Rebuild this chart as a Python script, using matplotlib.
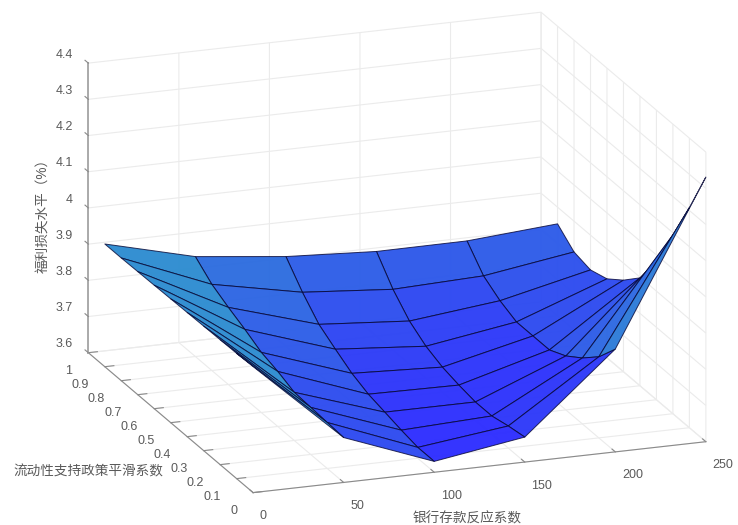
import numpy as np
import matplotlib
matplotlib.use("Agg")
import matplotlib.pyplot as plt
from matplotlib.colors import LinearSegmentedColormap, Normalize

plt.rcParams["font.family"] = ["Liberation Sans", "Noto Sans CJK SC"]

bank_response = [0, 50, 100, 150, 200, 250]
smoothing = [0, 0.1, 0.2, 0.3, 0.4, 0.5, 0.6, 0.7, 0.8, 0.9]
loss_0 = [3.948, 3.946, 3.945, 3.944, 3.943, 3.942, 3.941, 3.940, 3.939, 3.939]
loss_50 = [3.724, 3.727, 3.730, 3.733, 3.752, 3.766, 3.791, 3.813, 3.838, 3.876]
loss_100 = [3.630, 3.630, 3.639, 3.650, 3.661, 3.680, 3.708, 3.738, 3.788, 3.848]
loss_150 = [3.669, 3.661, 3.650, 3.650, 3.658, 3.669, 3.688, 3.719, 3.768, 3.834]
loss_200 = [3.884, 3.824, 3.782, 3.749, 3.727, 3.727, 3.727, 3.747, 3.777, 3.835]
loss_250 = [4.331, 4.208, 4.094, 3.983, 3.898, 3.853, 3.818, 3.804, 3.815, 3.854]

x_ticks = [0, 50, 100, 150, 200, 250]
y_ticks = [0, 0.1, 0.2, 0.3, 0.4, 0.5, 0.6, 0.7, 0.8, 0.9, 1]
z_ticks = [3.6, 3.7, 3.8, 3.9, 4, 4.1, 4.2, 4.3, 4.4]
x_tick_labels = ["0", "50", "100", "150", "200", "250"]
y_tick_labels = ["0", "0.1", "0.2", "0.3", "0.4", "0.5", "0.6", "0.7", "0.8", "0.9", "1"]
z_tick_labels = ["3.6", "3.7", "3.8", "3.9", "4", "4.1", "4.2", "4.3", "4.4"]

TEXT = "#5a5a5a"
GRID = (0.92, 0.92, 0.92, 1)
AXIS = "#8a8a8a"

X, Y = np.meshgrid(bank_response, smoothing)
Z = np.array([loss_0, loss_50, loss_100, loss_150, loss_200, loss_250]).T

cmap = LinearSegmentedColormap.from_list(
    "blues", [(44 / 255, 44 / 255, 1), (44 / 255, 140 / 255, 208 / 255)]
)
norm = Normalize(3.63, 3.94)
colors = cmap(norm(Z[:-1, :-1]))
colors[..., 3] = 0.96

fig = plt.figure(figsize=(7.38, 5.25), dpi=100)
ax = fig.add_axes([21 / 738, 3 / 525, 1, 1], projection="3d", proj_type="ortho")
ax.view_init(elev=18, azim=-110)
ax.set_box_aspect((1, 1, 0.632), zoom=1.38)
ax.set_xlim(0, 250, view_margin=0)
ax.set_ylim(0, 1, view_margin=0)
ax.set_zlim(3.6, 4.4, view_margin=0)

surf = ax.plot_surface(X, Y, Z, rstride=1, cstride=1, facecolors=colors, shade=False)
surf.set_edgecolor((0.02, 0.02, 0.2, 0.8))
surf.set_linewidth(0.7)
surf.set_clip_on(False)

ax.set_xticks(x_ticks, x_tick_labels)
ax.set_yticks(y_ticks, y_tick_labels)
ax.set_zticks(z_ticks, z_tick_labels)
ax.tick_params(labelsize=9, labelcolor=TEXT, color=AXIS)
ax.tick_params(axis="x", pad=0)
ax.tick_params(axis="y", pad=-1)
ax.tick_params(axis="z", pad=-3)
plt.setp(ax.get_xticklabels(), ha="left")
plt.setp(ax.get_yticklabels(), ha="right")
plt.setp(ax.get_zticklabels(), ha="right", va="bottom")

for axis in (ax.xaxis, ax.yaxis, ax.zaxis):
    axis.set_pane_color((1, 1, 1, 1))
    axis.pane.set_edgecolor((1, 1, 1, 0))
    axis.line.set_color(AXIS)
    axis._axinfo["grid"]["color"] = GRID
    axis._axinfo["grid"]["linewidth"] = 0.8
    axis._axinfo["tick"]["inward_factor"] = 0
    axis._axinfo["tick"]["outward_factor"] = 0.25

# z ticks point along y like the other two axes
ax.zaxis._get_tickdir = lambda position: 1
ax.zaxis.line.set_color("#aaaaaa")
ax.zaxis.line.set_linewidth(1.4)

fig.text(467 / 738, 1 - 518 / 525, "银行存款反应系数", fontsize=9.8, color=TEXT, ha="center", va="center")
fig.text(88 / 738, 1 - 471 / 525, "流动性支持政策平滑系数", fontsize=9.8, color=TEXT, ha="center", va="center")
fig.text(43 / 738, 1 - 212 / 525, "福利损失水平（%）", fontsize=9.8, color=TEXT, ha="center", va="center", rotation=90)

fig.savefig("out.png", dpi=100)
